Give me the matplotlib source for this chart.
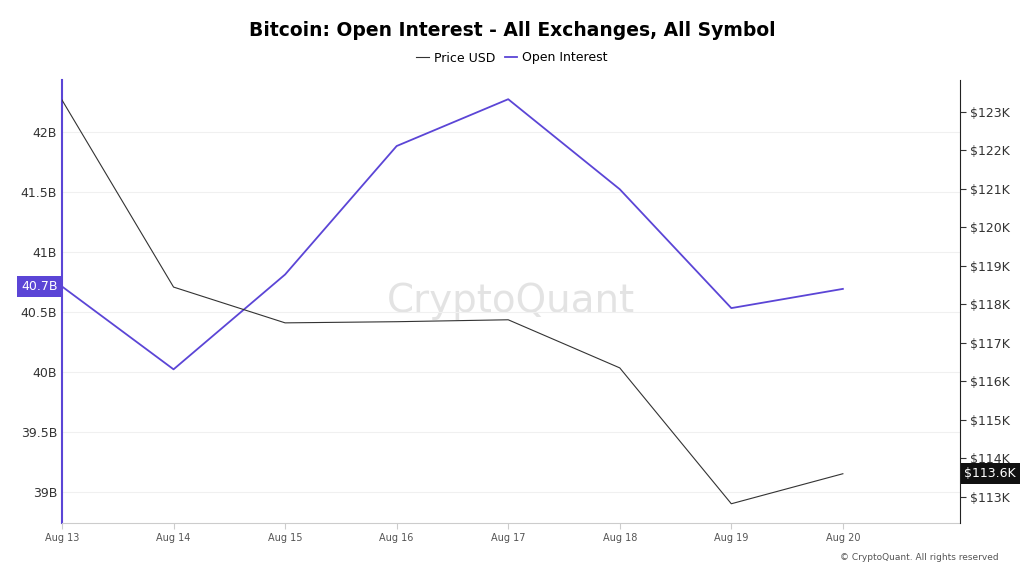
import matplotlib
matplotlib.use("Agg")
import matplotlib.pyplot as plt
from matplotlib.lines import Line2D

dates = ["Aug 13","Aug 14","Aug 15","Aug 16","Aug 17","Aug 18","Aug 19","Aug 20"]
open_interest_b = [40.71, 40.02, 40.81, 41.88, 42.27, 41.52, 40.53, 40.69]
price_k = [123.31, 118.45, 117.52, 117.55, 117.6, 116.35, 112.82, 113.6]
left_ticks = [39, 39.5, 40, 40.5, 41, 41.5, 42]
right_ticks = list(range(113, 124))

purple = "#5b45d6"
fig = plt.figure(figsize=(10.24, 5.76), dpi=100)
ax = fig.add_axes([62/1024, 1-523/576, 898/1024, 443/576])
ax2 = ax.twinx()
x = list(range(len(dates)))
ax.plot(x, open_interest_b, color=purple, lw=1.3, zorder=3)
ax2.plot(x, price_k, color="#333333", lw=0.8)
ax.set_xlim(0, 8.05)
ax.set_ylim(38.74, 42.43)
ax2.set_ylim(112.32, 123.83)
ax.set_yticks(left_ticks)
ax.set_yticklabels([f"{t:g}B" for t in left_ticks])
ax2.set_yticks(right_ticks)
ax2.set_yticklabels([f"${t}K" for t in right_ticks])
ax.set_xticks(x); ax.set_xticklabels(dates)
ax.grid(axis="y", color="#f0f0f0", lw=0.8, zorder=0)
for a in (ax, ax2):
    a.spines["top"].set_visible(False)
ax.spines["left"].set_color(purple); ax.spines["left"].set_linewidth(1.5)
ax.spines["right"].set_visible(False)
ax.spines["bottom"].set_color("#cccccc")
ax2.spines["left"].set_visible(False); ax2.spines["bottom"].set_visible(False)
ax2.spines["right"].set_color("#222222")
ax.tick_params(axis="y", length=0, labelsize=9, colors="#333333")
ax.tick_params(axis="x", length=4, labelsize=7, colors="#555555", color="#cccccc")
ax2.tick_params(axis="y", length=4, labelsize=9, colors="#333333")
ax.text(-0.005, open_interest_b[0], "40.7B", transform=ax.get_yaxis_transform(), ha="right", va="center",
        color="white", fontsize=9, bbox=dict(boxstyle="square,pad=0.3", fc=purple, ec="none"))
ax2.text(1.005, price_k[-1], "$113.6K", transform=ax2.get_yaxis_transform(), ha="left", va="center",
         color="white", fontsize=9, bbox=dict(boxstyle="square,pad=0.3", fc="#111111", ec="none"))
ax.text(0.5, 0.5, "CryptoQuant", transform=ax.transAxes, ha="center", va="center",
        fontsize=28, color="#dddddd", alpha=0.8, zorder=0)
fig.text(0.5, 1-30/576, "Bitcoin: Open Interest - All Exchanges, All Symbol", ha="center", va="center",
         fontsize=13.5, fontweight="bold")
fig.legend([Line2D([], [], color="#333333", lw=0.8), Line2D([], [], color=purple, lw=1.3)],
           ["Price USD", "Open Interest"], loc="center", bbox_to_anchor=(0.5, 1-58/576),
           ncol=2, frameon=False, fontsize=9, handlelength=1, columnspacing=0.8, handletextpad=0.4)
fig.text(0.975, 1-558/576, "© CryptoQuant. All rights reserved", ha="right", va="center", fontsize=6.5, color="#555555")
fig.savefig("out.png", dpi=100)
